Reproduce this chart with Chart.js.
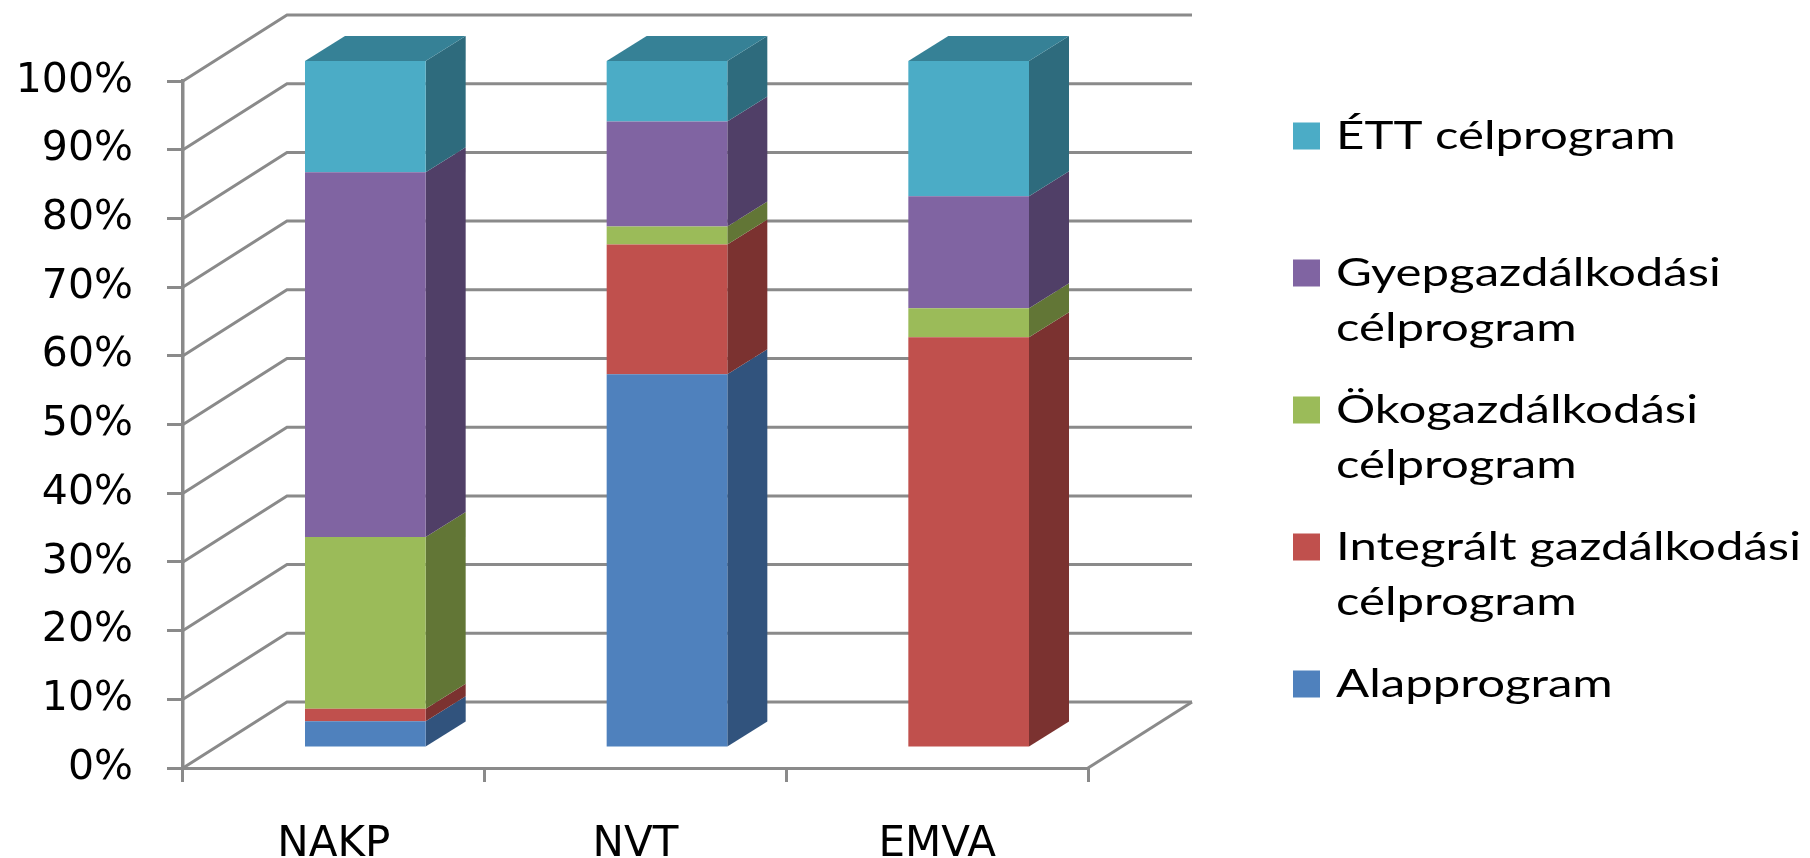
<!DOCTYPE html>
<html>
<head>
<meta charset="utf-8">
<script src="https://cdn.jsdelivr.net/npm/chart.js@4.4.1/dist/chart.umd.min.js"></script>
<style>
  html, body { margin: 0; padding: 0; background: #ffffff; }
  #wrap { width: 1810px; height: 858px; position: relative; }
</style>
</head>
<body>
<div id="wrap"><canvas id="c"></canvas></div>
<script>
// ---------------- DATA ----------------
const categories = ['NAKP', 'NVT', 'EMVA'];
const seriesNames = [
  'Alapprogram',
  'Integrált gazdálkodási célprogram',
  'Ökogazdálkodási célprogram',
  'Gyepgazdálkodási célprogram',
  'ÉTT célprogram'
];
const alapprogram = [3.9, 54.4, 0.0];
const integralt   = [1.8, 18.9, 59.8];
const oko         = [25.0, 2.6, 4.2];
const gyep        = [53.1, 15.3, 16.3];
const ett         = [16.2, 8.8, 19.7];
const yTickValues = [0, 10, 20, 30, 40, 50, 60, 70, 80, 90, 100];
const yTickLabels = ['0%', '10%', '20%', '30%', '40%', '50%', '60%', '70%', '80%', '90%', '100%'];

// ---------------- STYLE ----------------
const FRONT = ['#4F81BD', '#C0504D', '#9BBB59', '#8064A2', '#4BACC6'];
const SIDE  = ['#31537D', '#7B3230', '#627636', '#503F67', '#2E6B7D'];
const TOP   = ['#3B6294', '#8F3B39', '#738A43', '#5E4A7A', '#368196'];
const GRID = '#8a8a8a';
const GRID_W = 3;
const BACK = { dx: 104, dy: -66 };     // axis plane -> back wall
const SHIFT = { dx: 31.5, dy: -20 };   // axis plane -> bar front plane
const DEPTH = { dx: 40, dy: -25 };     // bar front -> bar back
const LEG = { boxX: 1293, box: 27, textX: 1336, firstCenter: 136, gap: 137,
              lineGap: 55, baseOff: 13, fontSize: 39, sx: 1.26, maxW: 500 };

const seriesData = [alapprogram, integralt, oko, gyep, ett];

const threeD = {
  id: 'threeD',
  beforeDatasetsDraw(chart) {
    const { ctx, chartArea: a, scales: { y } } = chart;
    ctx.save();
    ctx.strokeStyle = GRID;
    ctx.lineWidth = GRID_W;
    ctx.lineJoin = 'miter';
    y.ticks.forEach(t => {
      const py = y.getPixelForValue(t.value);
      ctx.beginPath();
      ctx.moveTo(a.left, py);
      ctx.lineTo(a.left + BACK.dx, py + BACK.dy);
      ctx.lineTo(a.right + BACK.dx, py + BACK.dy);
      ctx.stroke();
    });
    const pb = y.getPixelForValue(0);
    ctx.beginPath();
    ctx.moveTo(a.right, pb);
    ctx.lineTo(a.right + BACK.dx, pb + BACK.dy);
    ctx.stroke();
    ctx.restore();

    // shift bars to their depth plane and draw side / top faces
    ctx.save();
    ctx.translate(SHIFT.dx, SHIFT.dy);
    const nDs = chart.data.datasets.length;
    for (let j = 0; j < categories.length; j++) {
      let topIdx = -1;
      for (let i = 0; i < nDs; i++) if (chart.data.datasets[i].data[j] > 0) topIdx = i;
      for (let i = 0; i < nDs; i++) {
        const bar = chart.getDatasetMeta(i).data[j];
        const p = bar.getProps(['x', 'y', 'base', 'width'], true);
        if (Math.abs(p.base - p.y) < 0.01) continue;
        const xl = p.x - p.width / 2, xr = p.x + p.width / 2;
        ctx.fillStyle = SIDE[i];
        ctx.beginPath();
        ctx.moveTo(xr, p.y);
        ctx.lineTo(xr + DEPTH.dx, p.y + DEPTH.dy);
        ctx.lineTo(xr + DEPTH.dx, p.base + DEPTH.dy);
        ctx.lineTo(xr, p.base);
        ctx.closePath();
        ctx.fill();
        if (i === topIdx) {
          ctx.fillStyle = TOP[i];
          ctx.beginPath();
          ctx.moveTo(xl, p.y);
          ctx.lineTo(xl + DEPTH.dx, p.y + DEPTH.dy);
          ctx.lineTo(xr + DEPTH.dx, p.y + DEPTH.dy);
          ctx.lineTo(xr, p.y);
          ctx.closePath();
          ctx.fill();
        }
      }
    }
  },
  afterDatasetsDraw(chart) {
    chart.ctx.restore();
  },
  afterDraw(chart) {
    const ctx = chart.ctx;
    ctx.save();
    ctx.font = LEG.fontSize + 'px Lato';
    ctx.textBaseline = 'alphabetic';
    const order = chart.data.datasets.map((d, i) => i).reverse();
    order.forEach((di, k) => {
      const ds = chart.data.datasets[di];
      const cy = LEG.firstCenter + k * LEG.gap;
      ctx.fillStyle = ds.backgroundColor;
      ctx.fillRect(LEG.boxX, cy - LEG.box / 2, LEG.box, LEG.box);
      // wrap label
      const words = ds.label.split(' ');
      const lines = [];
      let cur = '';
      words.forEach(w => {
        const test = cur ? cur + ' ' + w : w;
        if (cur && ctx.measureText(test).width * LEG.sx > LEG.maxW) { lines.push(cur); cur = w; }
        else cur = test;
      });
      if (cur) lines.push(cur);
      ctx.fillStyle = '#000000';
      lines.forEach((ln, m) => {
        ctx.save();
        ctx.translate(LEG.textX, cy + LEG.baseOff + m * LEG.lineGap);
        ctx.scale(LEG.sx, 1);
        ctx.fillText(ln, 0, 0);
        ctx.restore();
      });
    });
    ctx.restore();
  }
};

new Chart(document.getElementById('c'), {
  type: 'bar',
  data: {
    labels: categories,
    datasets: seriesData.map((d, i) => ({
      label: seriesNames[i],
      data: d,
      backgroundColor: FRONT[i],
      borderWidth: 0,
      barPercentage: 0.8,
      categoryPercentage: 0.5,
      clip: false
    }))
  },
  options: {
    responsive: true,
    maintainAspectRatio: false,
    devicePixelRatio: 1,
    animation: false,
    layout: { padding: { left: 0, right: 722, top: 81, bottom: 0 } },
    plugins: { legend: { display: false }, tooltip: { enabled: false } },
    scales: {
      x: {
        stacked: true,
        grid: { drawOnChartArea: false, drawTicks: true, tickLength: 14, color: GRID, lineWidth: GRID_W, offset: true },
        border: { display: true, color: GRID, width: GRID_W },
        ticks: { color: '#000', font: { family: 'DejaVu Sans', size: 42 }, padding: 38, maxRotation: 0 },
        afterFit(s) { s.height = 90; }
      },
      y: {
        stacked: true,
        min: 0, max: 100,
        afterBuildTicks(s) { s.ticks = yTickValues.map(v => ({ value: v })); },
        grid: { drawOnChartArea: false, drawTicks: true, tickLength: 16, color: GRID, lineWidth: GRID_W },
        border: { display: true, color: GRID, width: 3.5 },
        ticks: {
          color: '#000', font: { family: 'DejaVu Sans', size: 41 }, padding: 34,
          callback: (v) => yTickLabels[yTickValues.indexOf(v)]
        },
        afterFit(s) { s.width = 183; }
      }
    }
  },
  plugins: [threeD]
});
</script>
</body>
</html>
